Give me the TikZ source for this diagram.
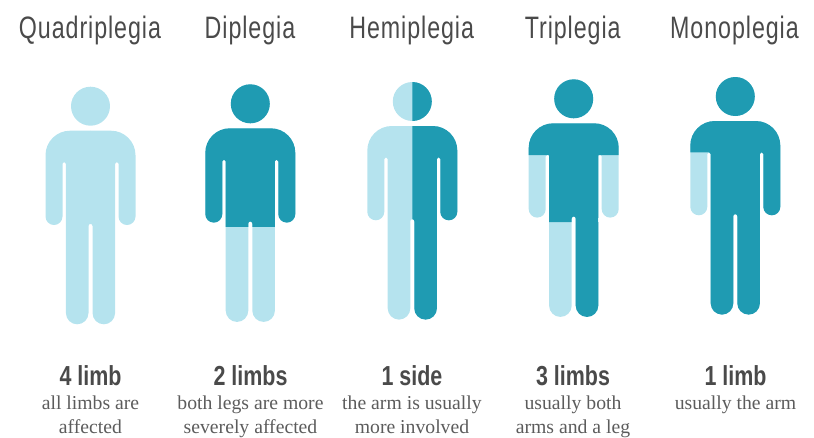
\documentclass[tikz,border=0pt]{standalone}
\usepackage{fontspec}
\setmainfont{Liberation Serif}
\newfontfamily\titlefont[FakeStretch=0.75,LetterSpace=3]{Liberation Sans}
\newfontfamily\headfont[FakeStretch=0.78]{Liberation Sans Bold}
\definecolor{tealdark}{HTML}{1F9BB2}
\definecolor{teallight}{HTML}{B5E3EE}
\definecolor{inkgrey}{HTML}{4A4A4A}
\newcommand{\silhouette}{
  (0,24.5) circle[radius=19.5]
  (-20.5,0) -- (20.5,0) arc[start angle=90,end angle=0,radius=24.5]
  -- (45,-85.8) arc[start angle=0,end angle=-180,radius=8.5]
  -- (28,-33) arc[start angle=0,end angle=180,radius=1.7]
  -- (24.6,-182.3) arc[start angle=0,end angle=-180,radius=11.3]
  -- (2,-95.2) arc[start angle=0,end angle=180,radius=2]
  -- (-2,-182.3) arc[start angle=0,end angle=-180,radius=11.3]
  -- (-24.6,-33) arc[start angle=0,end angle=180,radius=1.7]
  -- (-28,-85.8) arc[start angle=0,end angle=-180,radius=8.5]
  -- (-45,-24.5) arc[start angle=180,end angle=90,radius=24.5] -- cycle
}
% #1 centre x, #2 body top y, #3 clip path of the dark part
\newcommand{\person}[3]{
  \begin{scope}[shift={(#1,-#2)}]
    \fill[teallight] \silhouette;
    \begin{scope}
      \clip #3;
      \fill[tealdark] \silhouette;
    \end{scope}
  \end{scope}
}
\tikzset{
  title/.style={anchor=base,inner sep=0pt,text=inkgrey,font=\titlefont\fontsize{31}{31}\selectfont},
  head/.style={anchor=base,inner sep=0pt,text=inkgrey,font=\headfont\fontsize{27.5}{27.5}\selectfont},
  desc/.style={anchor=base,inner sep=0pt,text=inkgrey!90,font=\fontsize{19.7}{19.7}\selectfont}
}
\begin{document}
\begin{tikzpicture}[x=1pt,y=1pt]
\useasboundingbox (0,0) rectangle (814,-437);
\person{90.5}{130.7}{(0,0) rectangle (0,0)}
\person{250.3}{128.3}{(-60,50) rectangle (60,-98.4)}
\person{412.3}{126}{(0,50) rectangle (60,-200)}
\person{573.7}{123.3}{(-60,50) rectangle (60,-31.7) (-24.6,-31.7) rectangle (24.6,-98.7) (0,-98.7) rectangle (30,-200)}
\person{735.3}{121}{(-60,50) rectangle (60,-31.3) (-26,-31.3) rectangle (60,-200)}

\node[title] (t1) at (90,-38.5) {Quadriplegia};
\node[title] (t2) at (250,-38.5) {Diplegia};
\node[title] (t3) at (411.7,-38.5) {Hemiplegia};
\node[title] (t4) at (572.7,-38.5) {Triplegia};
\node[title] (t5) at (734.5,-38.5) {Monoplegia};

\node[head] (h1) at (90.5,-385) {4 limb};
\node[head] (h2) at (250.5,-385) {2 limbs};
\node[head] (h3) at (412,-385) {1 side};
\node[head] (h4) at (573,-385) {3 limbs};
\node[head] (h5) at (735.5,-385) {1 limb};

\node[desc] (d1a) at (90.5,-409) {all limbs are};
\node[desc] (d1b) at (90.5,-433) {affected};
\node[desc] (d2a) at (250.5,-409) {both legs are more};
\node[desc] (d2b) at (250.5,-433) {severely affected};
\node[desc] (d3a) at (412,-409) {the arm is usually};
\node[desc] (d3b) at (412,-433) {more involved};
\node[desc] (d4a) at (573,-409) {usually both};
\node[desc] (d4b) at (573,-433) {arms and a leg};
\node[desc] (d5a) at (735.5,-409) {usually the arm};
\end{tikzpicture}
\end{document}
